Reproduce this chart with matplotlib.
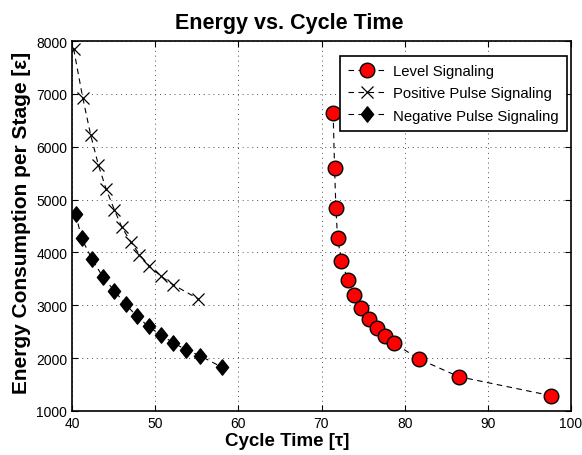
import matplotlib.pyplot as plt
from matplotlib.path import Path

plt.rcParams['font.family'] = ['Liberation Sans', 'DejaVu Sans']

# Level signaling
level_x = [71.4, 71.57, 71.73, 71.93, 72.4, 73.2, 73.9, 74.7, 75.7, 76.66, 77.6, 78.7, 81.7, 86.5, 97.6]
level_y = [6640, 5600, 4850, 4275, 3830, 3470, 3195, 2945, 2740, 2570, 2425, 2285, 1985, 1650, 1290]

# Positive pulse signaling
pos_x = [40.2, 41.3, 42.25, 43.16, 44.1, 45.1, 46.0, 47.05, 48.1, 49.3, 50.7, 52.2, 55.2]
pos_y = [7850, 6920, 6220, 5660, 5200, 4805, 4475, 4205, 3960, 3740, 3550, 3385, 3120]

# Negative pulse signaling
neg_x = [40.44, 41.16, 42.4, 43.7, 45.1, 46.45, 47.8, 49.2, 50.65, 52.2, 53.7, 55.4, 58.0]
neg_y = [4730, 4265, 3875, 3540, 3270, 3020, 2790, 2600, 2440, 2290, 2160, 2045, 1830]

diamond = Path([(0, 1), (0.8, 0), (0, -1), (-0.8, 0), (0, 1)],
               [Path.MOVETO, Path.LINETO, Path.LINETO, Path.LINETO, Path.CLOSEPOLY])

fig = plt.figure(figsize=(5.82, 4.56), dpi=100)
ax = fig.add_axes([72/582, 1-412/456, (571-72)/582, (412-42)/456])

ax.plot(level_x, level_y, '--', color='black', lw=0.8, dashes=(5, 4), marker='o', ms=10.5,
        mfc='red', mec='black', mew=1, label='Level Signaling')
ax.plot(pos_x, pos_y, '--', color='black', lw=0.8, dashes=(5, 4), marker='x', ms=8,
        mew=0.9, label='Positive Pulse Signaling')
ax.plot(neg_x, neg_y, '--', color='black', lw=0.8, dashes=(5, 4), marker=diamond, ms=11,
        mfc='black', mec='black', label='Negative Pulse Signaling')

ax.set_xlim(40, 100)
ax.set_ylim(1000, 8000)
ax.set_xticks(range(40, 101, 10))
ax.set_yticks(range(1000, 8001, 1000))
ax.grid(True, linestyle=(0, (1, 4)), color='black', lw=0.7, alpha=0.7)
ax.tick_params(direction='in', top=True, right=True, labelsize=10, length=4)
for s in ax.spines.values():
    s.set_linewidth(1.2)

ax.set_title('Energy vs. Cycle Time', fontsize=15.5, fontweight='bold', pad=9, x=0.435)
ax.set_xlabel('Cycle Time [τ]', fontsize=13.5, fontweight='bold')
ax.xaxis.set_label_coords(0.432, -0.058)
ax.set_ylabel('Energy Consumption per Stage [ε]', fontsize=15, fontweight='bold')
ax.yaxis.set_label_coords(-0.082, 0.512)

leg = ax.legend(loc='upper right', bbox_to_anchor=(567/582, 1-57/456),
                bbox_transform=fig.transFigure, fontsize=10.7, fancybox=False, framealpha=1,
                edgecolor='black', borderaxespad=0, handlelength=2.55,
                handletextpad=0.5, labelspacing=0.55, borderpad=0.55)
leg.get_frame().set_linewidth(1.2)

fig.savefig('out.png', dpi=100)
